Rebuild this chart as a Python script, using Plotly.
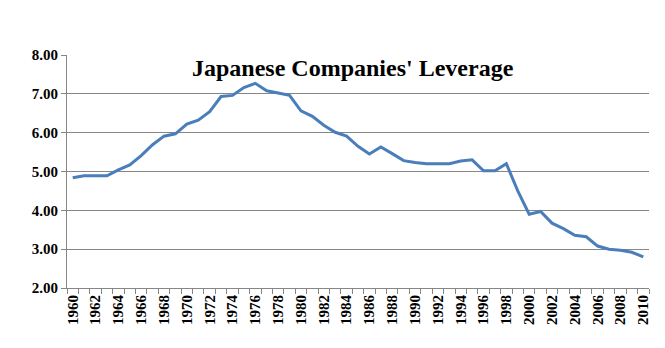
import plotly.graph_objects as go

years = list(range(1960, 2011))
leverage = [4.84, 4.89, 4.89, 4.89, 5.04, 5.17, 5.41, 5.69, 5.91, 5.97,
            6.22, 6.32, 6.54, 6.93, 6.96, 7.16, 7.27, 7.08, 7.02, 6.96,
            6.56, 6.42, 6.19, 6.01, 5.91, 5.65, 5.45, 5.63, 5.46, 5.28,
            5.23, 5.20, 5.20, 5.20, 5.27, 5.30, 5.02, 5.02, 5.20, 4.50,
            3.90, 3.97, 3.67, 3.53, 3.36, 3.32, 3.08, 3.00, 2.97, 2.92,
            2.80]
label_years = list(range(1960, 2011, 2))
title_text = "Japanese Companies' Leverage"

serif = "Times New Roman, Liberation Serif, serif"
grid = "#868686"

fig = go.Figure()
fig.add_trace(go.Scatter(x=years, y=leverage, mode="lines",
                         line=dict(color="#4a7ebb", width=3),
                         hoverinfo="x+y"))

fig.update_layout(
    width=665, height=348,
    margin=dict(l=67, r=16, t=55, b=60),
    paper_bgcolor="white", plot_bgcolor="white",
    showlegend=False,
    font=dict(family=serif, color="black"),
)
fig.update_xaxes(
    range=[1959.5, 2010.5],
    tickmode="array", tickvals=label_years, ticktext=[str(y) for y in label_years],
    tickangle=-90, ticks="",
    tickfont=dict(family=serif, size=15, weight="bold", color="black"),
    showgrid=False, zeroline=False,
    showline=True, linecolor=grid, linewidth=1,
    minor=dict(tick0=1959.5, dtick=1, ticks="outside", ticklen=5,
               tickcolor=grid, tickwidth=1, showgrid=False),
)
fig.update_yaxes(
    range=[2, 8], dtick=1, tickformat=".2f",
    ticks="outside", ticklen=5, tickcolor=grid,
    tickfont=dict(family=serif, size=15, weight="bold", color="black"),
    showgrid=True, gridcolor=grid, gridwidth=1, zeroline=False,
    showline=True, linecolor=grid, linewidth=1,
)
fig.add_annotation(
    text=title_text, xref="paper", yref="paper", x=0.492, y=0.944,
    xanchor="center", yanchor="middle", showarrow=False,
    font=dict(family=serif, size=24, weight="bold", color="black"),
)
fig.write_html("out.html")
